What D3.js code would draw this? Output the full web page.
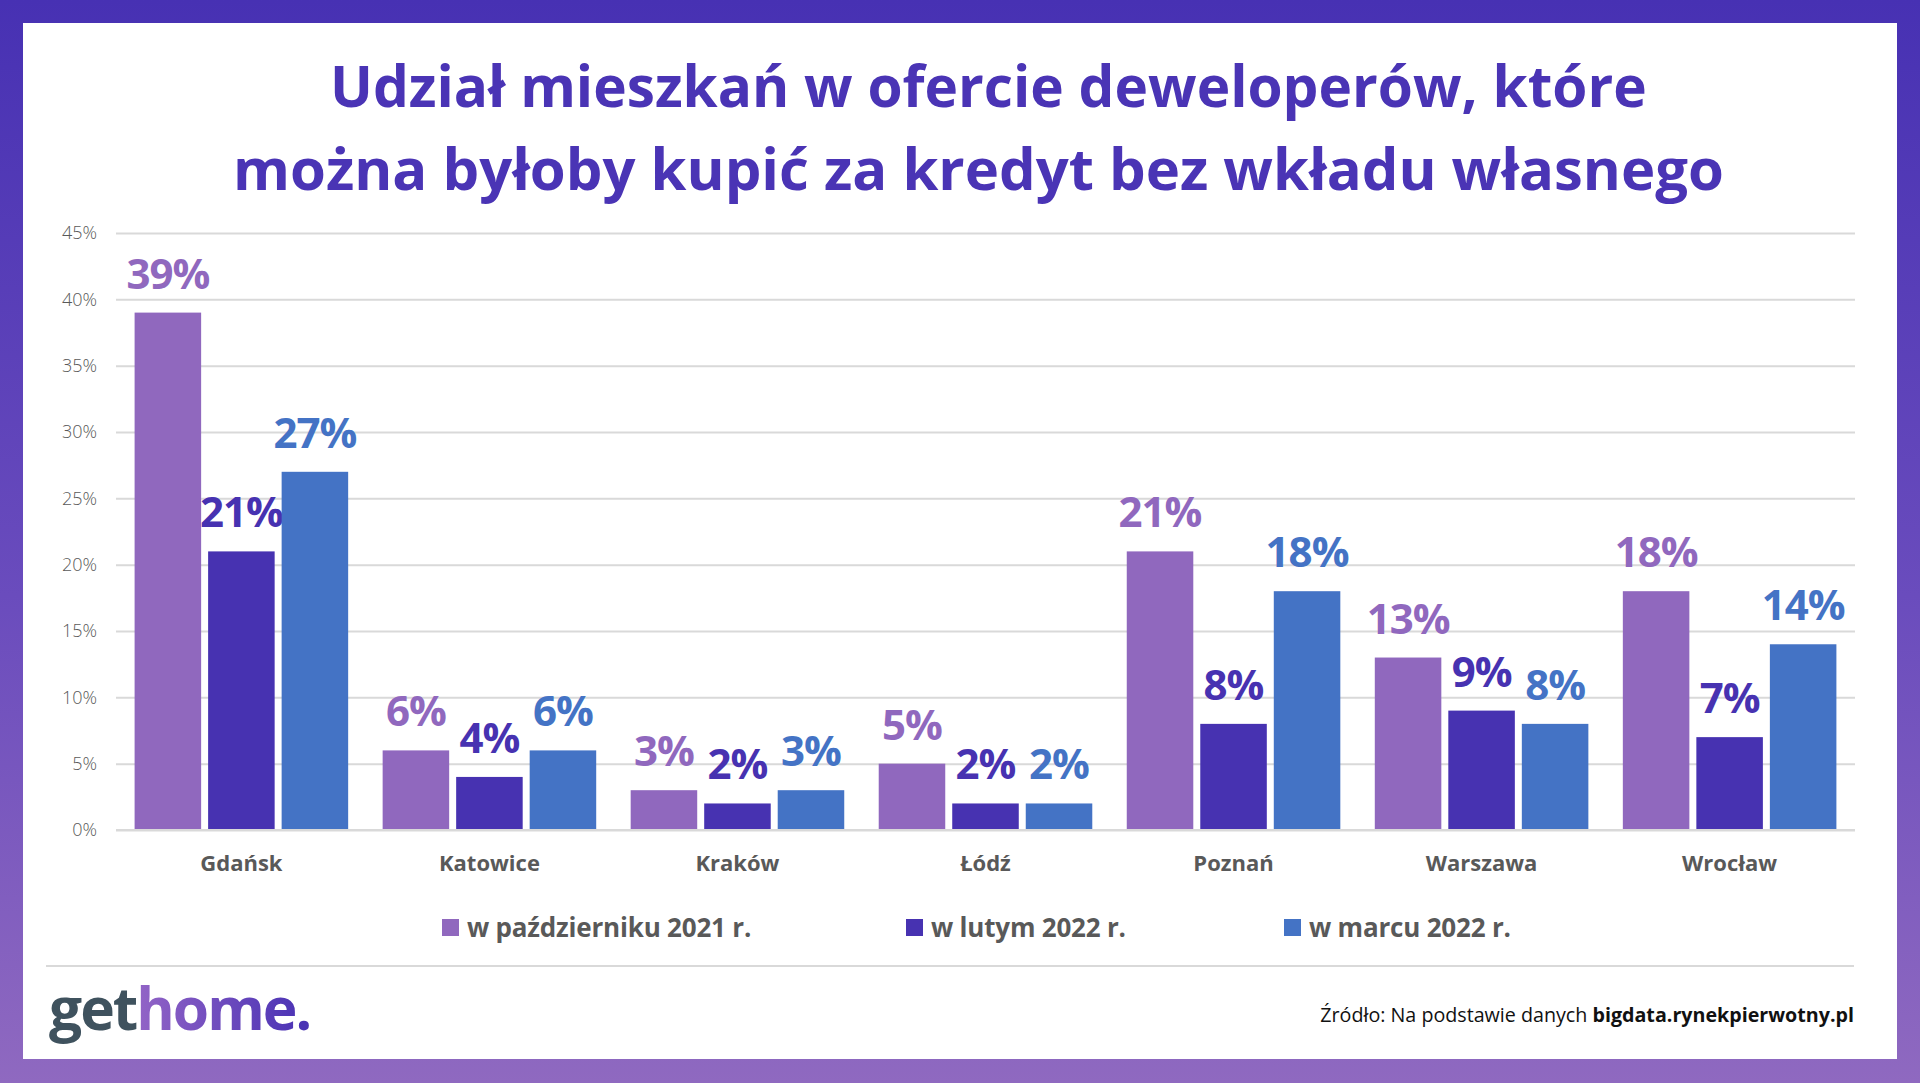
<!DOCTYPE html>
<html>
<head>
<meta charset="utf-8">
<script src="https://cdn.jsdelivr.net/npm/d3@7/dist/d3.min.js"></script>
<style>
body { margin: 0; background: #ffffff; overflow: hidden; }
text { font-family: "Open Sans", "DejaVu Sans", sans-serif; }
</style>
</head>
<body>
<script>
// chart data
var cities = ["Gdańsk", "Katowice", "Kraków", "Łódź", "Poznań", "Warszawa", "Wrocław"];
var seriesNames = ["w październiku 2021 r.", "w lutym 2022 r.", "w marcu 2022 r."];
var oct2021 = [39, 6, 3, 5, 21, 13, 18];
var feb2022 = [21, 4, 2, 2, 8, 9, 7];
var mar2022 = [27, 6, 3, 2, 18, 8, 14];
var yTicks = [0, 5, 10, 15, 20, 25, 30, 35, 40, 45];
var titleLines = ["Udział mieszkań w ofercie deweloperów, które",
                  "można byłoby kupić za kredyt bez wkładu własnego"];
var sourceText = "Źródło: Na podstawie danych ",
    sourceBold = "bigdata.rynekpierwotny.pl";

var seriesValues = [oct2021, feb2022, mar2022];
var colors = ["#9068be", "#4732b1", "#4473c5"];

var width = 1920,
    height = 1083;

var svg = d3.select("body").append("svg")
    .attr("width", width)
    .attr("height", height);

var defs = svg.append("defs");

var frameGrad = defs.append("linearGradient")
    .attr("id", "frameGrad")
    .attr("x1", 0).attr("y1", 0).attr("x2", 0).attr("y2", 1);
frameGrad.append("stop").attr("offset", "0%").attr("stop-color", "#4731b3");
frameGrad.append("stop").attr("offset", "55%").attr("stop-color", "#6a4cbd");
frameGrad.append("stop").attr("offset", "100%").attr("stop-color", "#8f69c0");

var homeGrad = defs.append("linearGradient")
    .attr("id", "homeGrad")
    .attr("gradientUnits", "userSpaceOnUse")
    .attr("x1", 140).attr("y1", 0).attr("x2", 300).attr("y2", 0);
homeGrad.append("stop").attr("offset", "0%").attr("stop-color", "#9163c6");
homeGrad.append("stop").attr("offset", "100%").attr("stop-color", "#4c34b5");

// purple frame + white card
svg.append("rect")
    .attr("width", width)
    .attr("height", height)
    .attr("fill", "url(#frameGrad)");
svg.append("rect")
    .attr("x", 23)
    .attr("y", 23)
    .attr("width", 1874)
    .attr("height", 1036)
    .attr("fill", "#ffffff");

// shrink/grow a text so it covers the wanted width
function fitText(sel, target) {
    var len = sel.node().getComputedTextLength(),
        fs = parseFloat(sel.attr("font-size"));
    sel.attr("font-size", (fs * target / len).toFixed(2));
}

// title
var titleX = [330, 233],
    titleY = [107, 190],
    titleW = [1317, 1491];
titleLines.forEach(function(line, i) {
    var t = svg.append("text")
        .attr("x", titleX[i])
        .attr("y", titleY[i])
        .attr("font-size", 60)
        .attr("font-weight", 700)
        .attr("fill", "#4a34b5")
        .text(line);
    fitText(t, titleW[i]);
});

// scales
var x0 = d3.scaleBand()
    .domain(cities)
    .range([116, 1855])
    .paddingInner(0.139)
    .paddingOuter(0.075);

var x1 = d3.scaleBand()
    .domain(d3.range(seriesValues.length))
    .range([0, x0.bandwidth()])
    .paddingInner(0.095);

var y = d3.scaleLinear()
    .domain([0, 45])
    .range([830, 233]);

// gridlines + y labels
var yAxis = d3.axisLeft(y)
    .tickValues(yTicks)
    .tickSize(-(1855 - 116))
    .tickPadding(19)
    .tickFormat(function(d) { return d + "%"; });

var gAxis = svg.append("g")
    .attr("transform", "translate(116,0)")
    .call(yAxis);
gAxis.select(".domain").remove();
gAxis.selectAll(".tick line")
    .attr("stroke", "#d9d9d9")
    .attr("stroke-width", 2);
gAxis.selectAll(".tick text")
    .attr("font-size", 18)
    .attr("font-weight", 300)
    .attr("fill", "#595959")
    .style("font-family", "'Open Sans', sans-serif");

// bars
var groups = svg.append("g").selectAll("g")
    .data(cities)
    .enter().append("g")
    .attr("transform", function(d) { return "translate(" + x0(d) + ",0)"; });

seriesValues.forEach(function(vals, s) {
    groups.append("rect")
        .attr("x", x1(s))
        .attr("y", function(d, i) { return y(vals[i]); })
        .attr("width", x1.bandwidth())
        .attr("height", function(d, i) { return y(0) - y(vals[i]); })
        .attr("fill", colors[s]);

    groups.append("text")
        .attr("x", x1(s) + x1.bandwidth() / 2)
        .attr("y", function(d, i) { return y(vals[i]) - 24; })
        .attr("text-anchor", "middle")
        .attr("font-size", 42)
        .attr("font-weight", 700)
        .attr("letter-spacing", -1)
        .attr("fill", colors[s])
        .text(function(d, i) { return vals[i] + "%"; });
});

// baseline
svg.append("line")
    .attr("x1", 116).attr("x2", 1855)
    .attr("y1", y(0)).attr("y2", y(0))
    .attr("stroke", "#d9d9d9")
    .attr("stroke-width", 2);

// category labels
svg.append("g").selectAll("text")
    .data(cities)
    .enter().append("text")
    .attr("x", function(d) { return x0(d) + x0.bandwidth() / 2; })
    .attr("y", 871)
    .attr("text-anchor", "middle")
    .attr("font-size", 22)
    .attr("font-weight", 700)
    .attr("fill", "#595959")
    .text(function(d) { return d; });

// legend
var legendX = [442, 906, 1284];
var legend = svg.append("g").selectAll("g")
    .data(seriesNames)
    .enter().append("g")
    .attr("transform", function(d, i) { return "translate(" + legendX[i] + ",928)"; });
legend.append("rect")
    .attr("x", 0)
    .attr("y", -9)
    .attr("width", 17)
    .attr("height", 17)
    .attr("fill", function(d, i) { return colors[i]; });
legend.append("text")
    .attr("x", 25)
    .attr("y", 9)
    .attr("font-size", 26)
    .attr("font-weight", 700)
    .attr("letter-spacing", -0.2)
    .attr("fill", "#595959")
    .text(function(d) { return d; });

// separator
svg.append("line")
    .attr("x1", 46).attr("x2", 1854)
    .attr("y1", 966).attr("y2", 966)
    .attr("stroke", "#d9d9d9")
    .attr("stroke-width", 2);

// logo
var logo = svg.append("text")
    .attr("x", 49)
    .attr("y", 1030)
    .attr("font-size", 62)
    .attr("font-weight", 700)
    .attr("letter-spacing", -2);
logo.append("tspan").attr("fill", "#3f525e").text("get");
logo.append("tspan").attr("fill", "url(#homeGrad)").text("home");
logo.append("tspan").attr("fill", "#4a33b4").text(".");
fitText(logo, 262);

// source
var src = svg.append("text")
    .attr("x", 1854)
    .attr("y", 1022)
    .attr("text-anchor", "end")
    .attr("font-size", 19)
    .attr("fill", "#111111");
src.append("tspan").attr("font-weight", 400).text(sourceText);
src.append("tspan").attr("font-weight", 700).text(sourceBold);
fitText(src, 534);
</script>
</body>
</html>
